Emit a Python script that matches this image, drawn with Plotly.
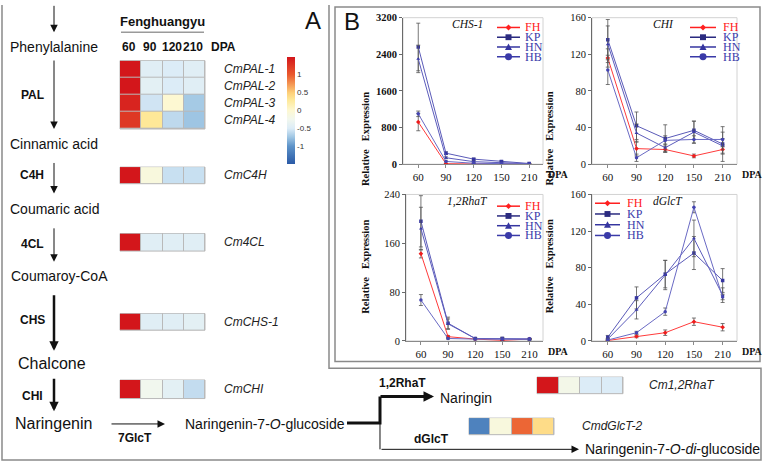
import plotly.graph_objects as go

# ---------------- data ----------------
dpa_points = ["60", "90", "120", "150", "210"]
cultivars = ["FH", "KP", "HN", "HB"]

chs1_values = [[920, 10, 5, 5, 5],
               [2560, 240, 110, 60, 15],
               [2300, 140, 55, 30, 10],
               [1100, 60, 20, 10, 5]]
chs1_errors = [[190, 5, 3, 3, 3],
               [520, 30, 20, 15, 5],
               [300, 20, 10, 10, 5],
               [60, 10, 5, 5, 3]]

chi_values = [[116, 17, 16, 9, 16],
              [136, 42, 28, 37, 22],
              [131, 34, 18, 35, 20],
              [103, 7, 26, 27, 27]]
chi_errors = [[10, 8, 3, 2, 5],
              [22, 15, 15, 10, 19],
              [20, 10, 4, 12, 8],
              [16, 4, 5, 4, 8]]

rhat_values = [[143, 7, 3, 1, 3],
               [196, 29, 4, 4, 3],
               [184, 28, 4, 4, 3],
               [67, 4, 3, 3, 3]]
rhat_errors = [[7, 2, 1, 0.5, 1],
               [42, 10, 1, 2, 1],
               [35, 8, 1, 1, 1],
               [9, 1, 1, 1, 1]]

dglct_values = [[0.5, 5, 9, 21, 15],
                [4, 47, 73, 96, 66],
                [2, 34, 72, 112, 50],
                [1, 9, 32, 146, 48]]
dglct_errors = [[0.5, 1.5, 3, 4, 4],
                [2, 12, 15, 18, 13],
                [1, 10, 16, 20, 8],
                [1, 1.5, 4, 6, 3]]

heat_dpa = ["60", "90", "120", "210"]
pal_genes = ["CmPAL-1", "CmPAL-2", "CmPAL-3", "CmPAL-4"]
pal_z = [[1.5, -0.45, -0.5, -0.45],
         [1.5, -0.42, -0.5, -0.45],
         [1.4, -0.55, 0.0, -0.72],
         [1.25, 0.3, -0.62, -0.75]]
c4h_genes = ["CmC4H"]
c4h_z = [[1.5, -0.1, -0.58, -0.58]]
cl4_genes = ["Cm4CL"]
cl4_z = [[1.5, -0.45, -0.45, -0.45]]
chs_genes = ["CmCHS-1"]
chs_z = [[1.5, -0.45, -0.45, -0.42]]
chi_genes = ["CmCHI"]
chi_z = [[1.5, -0.25, -0.42, -0.6]]
rhat_genes = ["Cm1,2RhaT"]
rhat_z = [[1.5, -0.2, -0.5, -0.5]]
dglct_genes = ["CmdGlcT-2"]
dglct_z = [[-1.15, -0.1, 0.95, 0.4]]

colorbar_ticks = [-1, -0.5, 0, 0.5, 1]

# ---------------- helpers ----------------
W, H = 763, 469
SANS = "Liberation Sans, Arial, sans-serif"
SERIF = "Liberation Serif, Times New Roman, serif"


def PX(x):
    return x / W


def PY(y):
    return 1 - y / H


def axid(k):
    return ("x" if k == 1 else f"x{k}"), ("y" if k == 1 else f"y{k}")


def axkey(k):
    return ("xaxis" if k == 1 else f"xaxis{k}"), ("yaxis" if k == 1 else f"yaxis{k}")


fig = go.Figure()
layout = dict(width=W, height=H, margin=dict(l=0, r=0, t=0, b=0),
              paper_bgcolor="white", plot_bgcolor="white", showlegend=False)
shapes = []
annotations = []


def text(x, y, s, size=12, family=SANS, color="#111", anchor="center", yanchor="middle"):
    annotations.append(dict(x=PX(x), y=PY(y), xref="paper", yref="paper", text=s,
                            showarrow=False, xanchor=anchor, yanchor=yanchor,
                            font=dict(size=size, family=family, color=color)))


def arrow(x0, y0, x1, y1, width=1, size=1.5):
    annotations.append(dict(x=PX(x1), y=PY(y1), xref="paper", yref="paper",
                            ax=x0 - x1, ay=y0 - y1, axref="pixel", ayref="pixel",
                            text="", showarrow=True, arrowhead=2, arrowsize=size,
                            arrowwidth=width, arrowcolor="#111", standoff=0))


def pline(points, width=1, color="#111"):
    path = "M " + " L ".join(f"{PX(x):.5f},{PY(y):.5f}" for x, y in points)
    shapes.append(dict(type="path", path=path, xref="paper", yref="paper",
                       line=dict(color=color, width=width)))


# ---------------- frames ----------------
pline([(2, 0), (2, 466), (761, 466), (761, 372), (329, 372), (329, 0)], width=1.5, color="#8a8a8a")
shapes.append(dict(type="rect", xref="paper", yref="paper", x0=PX(335), x1=PX(760), y0=PY(365), y1=PY(2),
                   line=dict(color="#8a8a8a", width=1.5)))

# ---------------- panel B: line charts ----------------
series_line = ["#ff3b3b", "#5a5ab8", "#5c5cbc", "#6a6ac4"]
series_marker = ["#ee1c1c", "#3535a0", "#3a3aa8", "#4444b0"]
legend_color = ["#ff2020", "#2b2b80", "#3535a0", "#3a3aa8"]
legend_text_color = ["#ff2020", "#3a3aaa", "#3a3aaa", "#3a3aaa"]
symbols = ["diamond", "square", "triangle-up", "circle"]

line_panels = [
    dict(vals=chs1_values, errs=chs1_errors, title="CHS-1", ymax=3200,
         tickvals=[0, 800, 1600, 2400, 3200], box=(403, 543, 13, 163),
         leg=(497, 520, 23, 10, 523), tpos=(468, 19), ytx=366, yty=87, bold=True),
    dict(vals=chi_values, errs=chi_errors, title="CHI", ymax=160,
         tickvals=[0, 40, 80, 120, 160], box=(592, 737, 13, 163),
         leg=(690, 716, 23, 10, 721), tpos=(663, 19), ytx=557, yty=87, bold=False),
    dict(vals=rhat_values, errs=rhat_errors, title="1,2RhaT", ymax=240,
         tickvals=[0, 80, 160, 240], box=(406, 543, 194, 344),
         leg=(497, 520, 206, 10, 523), tpos=(467, 201), ytx=366, yty=268, bold=False),
    dict(vals=dglct_values, errs=dglct_errors, title="dGlcT", ymax=160,
         tickvals=[0, 40, 80, 120, 160], box=(592, 737, 194, 344),
         leg=(595, 620, 203, 11, 625), tpos=(668, 201), ytx=557, yty=268, bold=False),
]

for k, p in enumerate(line_panels, start=1):
    xa, ya = axid(k)
    xk, yk = axkey(k)
    x0, x1, y0, y1 = p["box"]
    layout[xk] = dict(domain=[PX(x0), PX(x1)], anchor=ya, type="category",
                      categoryorder="array", categoryarray=dpa_points,
                      range=[-0.55, 4.5], showline=True, linecolor="#8a8a8a",
                      linewidth=1, ticks="outside", ticklen=3, tickcolor="#8a8a8a",
                      tickfont=dict(family=SERIF, size=11, color="#111"),
                      showgrid=False, zeroline=False, fixedrange=True)
    layout[yk] = dict(domain=[PY(y1), PY(y0)], anchor=xa, range=[0, p["ymax"]],
                      tickvals=p["tickvals"], showline=True, linecolor="#6a6a6a",
                      linewidth=1, ticks="outside", ticklen=3, tickcolor="#6a6a6a",
                      tickfont=dict(family=SERIF, size=10.5, color="#111",
                                    weight="bold" if p["bold"] else "normal"),
                      showgrid=False, zeroline=False, fixedrange=True)
    shapes.append(dict(type="rect", xref=f"{xa} domain", yref=f"{ya} domain",
                       x0=0, x1=1, y0=0, y1=1, line=dict(color="#d2d2d2", width=1), layer="below"))
    for i, name in enumerate(cultivars):
        fig.add_trace(go.Scatter(
            x=dpa_points, y=p["vals"][i], xaxis=xa, yaxis=ya, name=name,
            mode="lines+markers",
            line=dict(color=series_line[i], width=1),
            marker=dict(symbol=symbols[i], size=3.5, color=series_marker[i]),
            error_y=dict(type="data", array=p["errs"][i], visible=True,
                         color="#555555", thickness=0.8, width=2),
            hoverinfo="skip"))
    tx, ty = p["tpos"]
    text(tx, ty, f"<i>{p['title']}</i>", size=11.5, family=SERIF, color="#111")
    annotations.append(dict(x=PX(p["ytx"]), y=PY(p["yty"]), xref="paper", yref="paper",
                            text="<b>Relative\u00a0\u00a0\u00a0Expression</b>", textangle=-90,
                            showarrow=False, font=dict(size=10.5, family=SERIF, color="#111")))
    text(x1 + 3, y1 + 11, "<b>DPA</b>", size=10, family=SERIF, color="#111", anchor="left")
    lx0, lx1, ly0, dy, ltx = p["leg"]
    for i, name in enumerate(cultivars):
        yy = ly0 + i * dy
        shapes.append(dict(type="line", xref="paper", yref="paper", x0=PX(lx0), x1=PX(lx1),
                           y0=PY(yy), y1=PY(yy), line=dict(color=legend_color[i], width=1.5)))
        cx = (lx0 + lx1) / 2
        c = legend_color[i]
        if symbols[i] == "square":
            shapes.append(dict(type="rect", xref="paper", yref="paper", x0=PX(cx - 3), x1=PX(cx + 3),
                               y0=PY(yy + 3), y1=PY(yy - 3), fillcolor=c, line=dict(width=0)))
        elif symbols[i] == "circle":
            shapes.append(dict(type="circle", xref="paper", yref="paper", x0=PX(cx - 3.5), x1=PX(cx + 3.5),
                               y0=PY(yy + 3.5), y1=PY(yy - 3.5), fillcolor=c, line=dict(width=0)))
        elif symbols[i] == "triangle-up":
            path = (f"M {PX(cx - 3.5):.5f},{PY(yy + 3):.5f} L {PX(cx + 3.5):.5f},{PY(yy + 3):.5f} "
                    f"L {PX(cx):.5f},{PY(yy - 3.5):.5f} Z")
            shapes.append(dict(type="path", xref="paper", yref="paper", path=path,
                               fillcolor=c, line=dict(width=0)))
        else:
            path = (f"M {PX(cx - 3):.5f},{PY(yy):.5f} L {PX(cx):.5f},{PY(yy - 3):.5f} "
                    f"L {PX(cx + 3):.5f},{PY(yy):.5f} L {PX(cx):.5f},{PY(yy + 3):.5f} Z")
            shapes.append(dict(type="path", xref="paper", yref="paper", path=path,
                               fillcolor=c, line=dict(width=0)))
        text(ltx, yy, name, size=12, family=SERIF, color=legend_text_color[i], anchor="left")

text(352, 17, "B", size=24, family=SANS, color="#111")

# ---------------- panel A: heatmaps ----------------
colorscale = [
    [0.0, "#2a5aa6"], [0.1667, "#5d93c9"], [0.25, "#9ec5e3"], [0.3333, "#dcecf7"],
    [0.4167, "#f1f7ee"], [0.5, "#fdf8d2"], [0.6, "#fee898"], [0.6667, "#fdcf78"],
    [0.8333, "#ea5a2e"], [1.0, "#d3161b"],
]
layout["coloraxis"] = dict(
    cmin=-1.5, cmax=1.5, colorscale=colorscale,
    colorbar=dict(x=PX(287), xanchor="left", y=PY(53), yanchor="top",
                  len=110 / H, lenmode="fraction", thickness=8, thicknessmode="pixels",
                  outlinewidth=0, tickvals=colorbar_ticks,
                  ticktext=[str(v) for v in colorbar_ticks], ticks="",
                  tickfont=dict(size=8, family=SANS, color="#333"), xpad=0, ypad=0))

heat_blocks = [
    (pal_z, pal_genes, (120, 205, 57, 127), 222),
    (c4h_z, c4h_genes, (120, 205, 166, 183), 222),
    (cl4_z, cl4_genes, (120, 205, 234, 252), 222),
    (chs_z, chs_genes, (120, 205, 316, 333), 222),
    (chi_z, chi_genes, (120, 205, 384, 403), 222),
    (rhat_z, rhat_genes, (537, 623, 381, 398), 647),
    (dglct_z, dglct_genes, (469, 554, 423, 440), 580),
]
for j, (z, genes, (x0, x1, y0, y1), labx) in enumerate(heat_blocks, start=5):
    xa, ya = axid(j)
    xk, yk = axkey(j)
    layout[xk] = dict(domain=[PX(x0), PX(x1)], anchor=ya, visible=False,
                      range=[-0.5, 3.5], fixedrange=True)
    layout[yk] = dict(domain=[PY(y1), PY(y0)], anchor=xa, visible=False,
                      range=[len(genes) - 0.5, -0.5], fixedrange=True)
    shapes.append(dict(type="rect", xref=f"{xa} domain", yref=f"{ya} domain",
                       x0=0, x1=1, y0=0, y1=1, fillcolor="#b9b9b9",
                       line=dict(color="#b9b9b9", width=1), layer="below"))
    fig.add_trace(go.Heatmap(z=z, x=list(range(len(heat_dpa))), y=list(range(len(genes))),
                             xaxis=xa, yaxis=ya, coloraxis="coloraxis",
                             xgap=1, ygap=1, hoverinfo="skip"))
    rh = (y1 - y0) / len(genes)
    for r, g in enumerate(genes):
        text(labx, y0 + rh * (r + 0.5), f"<i>{g}</i>", size=12, family=SANS, color="#222",
             anchor="left")

cw = (205 - 120) / 4
for c, lab in enumerate(heat_dpa):
    text(120 + cw * (c + 0.5) - 1.5, 43, f"<b>{lab}</b>", size=12, color="#111")
text(223, 43, "<b>DPA</b>", size=12, color="#111")
text(162, 17, "<b>Fenghuangyu</b>", size=13, color="#111")
shapes.append(dict(type="line", xref="paper", yref="paper", x0=PX(121), x1=PX(204),
                   y0=PY(28), y1=PY(28), line=dict(color="#9a9a9a", width=1.5)))
text(313, 16, "A", size=24, color="#111")

# compounds
text(54, 43, "Phenylalanine", size=14)
text(54, 142, "Cinnamic acid", size=14)
text(54, 209, "Coumaric acid", size=14)
text(59, 278, "Coumaroy-CoA", size=14)
text(52, 367, "Chalcone", size=16)
text(53, 429, "Naringenin", size=16)
text(183, 429, "Naringenin-7-<i>O</i>-glucoside", size=14, anchor="left")
text(438, 402, "Naringin", size=14, anchor="left")
text(583, 455, "Naringenin-7-<i>O</i>-<i>di</i>-glucoside", size=14, anchor="left")

# enzymes
for lab, yy in [("PAL", 92), ("C4H", 174), ("4CL", 245), ("CHS", 323), ("CHI", 400)]:
    text(32, yy, f"<b>{lab}</b>", size=12)
text(135, 443, "<b>7GlcT</b>", size=12)
text(377, 387, "<b>1,2RhaT</b>", size=12, anchor="left")
text(412, 444, "<b>dGlcT</b>", size=12, anchor="left")

# arrows
arrow(54, 0, 54, 28)
arrow(54, 57, 54, 127)
arrow(54, 161, 54, 193)
arrow(54, 228, 54, 263)
arrow(54, 297, 54, 354, width=2.5, size=0.75)
arrow(54, 382, 54, 416, width=2.5, size=0.75)
arrow(110, 429, 165, 429)
pline([(347, 428), (380, 428), (380, 401)], width=3)
arrow(379, 401, 434, 401, width=3, size=0.7)
pline([(380, 428), (380, 455)], width=1)
arrow(380, 455, 579, 455)

layout["shapes"] = shapes
layout["annotations"] = annotations
fig.update_layout(**layout)
fig.write_html("out.html", config={"displayModeBar": False},
               post_script="document.body.style.margin='0';document.body.style.overflow='hidden';")
